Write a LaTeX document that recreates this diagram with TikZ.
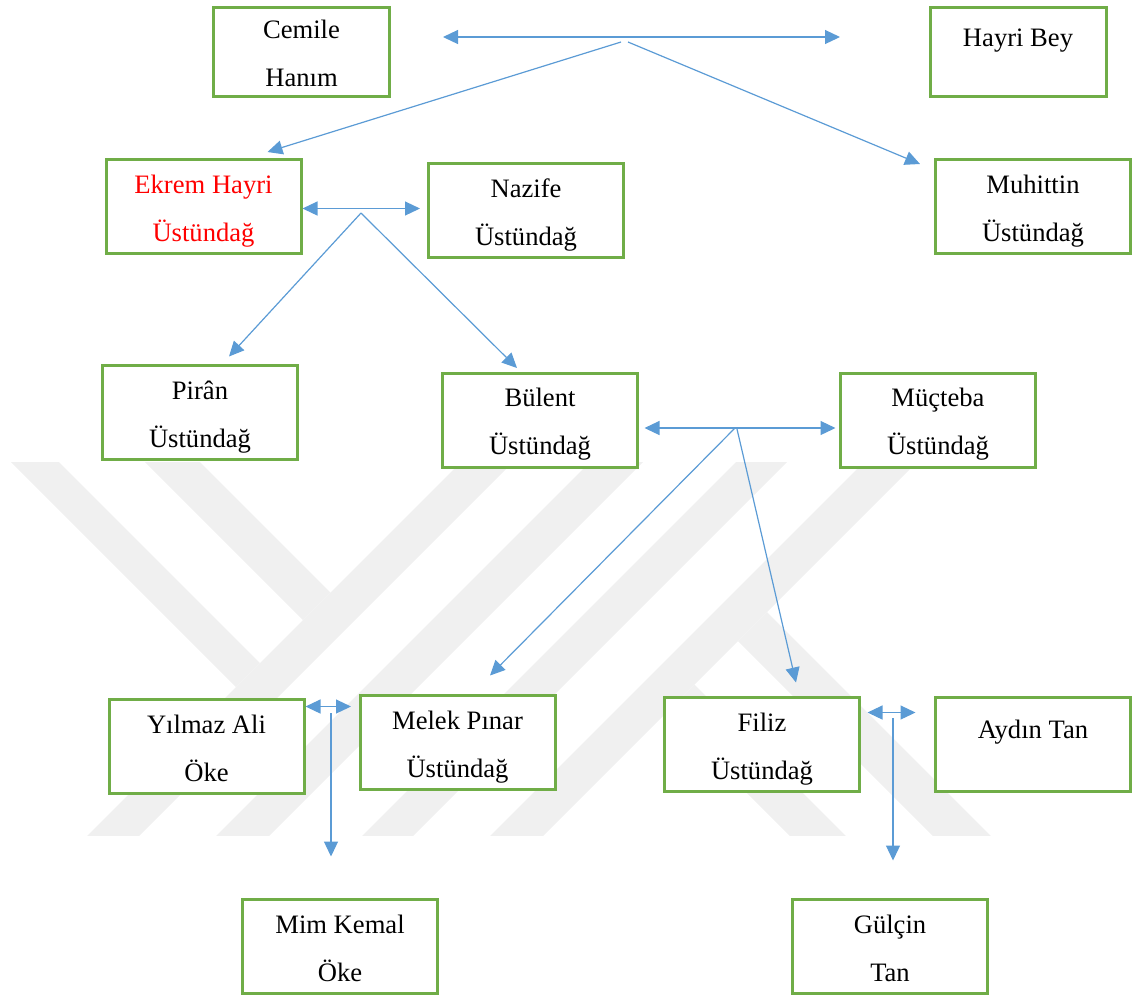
\documentclass[tikz,border=0pt]{standalone}
\usepackage{fontspec}
\setmainfont{Liberation Serif}
\usetikzlibrary{arrows.meta}
\definecolor{boxgreen}{HTML}{70AD47}
\definecolor{linkblue}{HTML}{5B9BD5}
\definecolor{markgray}{HTML}{F0F0F0}

\begin{document}
\begin{tikzpicture}[x=0.5pt, y=-0.5pt, >={Triangle[length=7.5pt,width=7pt]},
  person/.style={rectangle, draw=boxgreen, line width=1.5pt, fill=white, minimum width=97.5pt, minimum height=47pt, inner sep=2pt, align=center, text height=37.5pt, text depth=3pt, font=\fontsize{13.3}{24}\selectfont},
  elder/.style={person, minimum width=88pt, minimum height=44.5pt},
  oneline/.style={text height=9pt, text depth=15pt},
  link/.style={draw=linkblue, line width=0.6pt, ->},
  pair/.style={draw=linkblue, line width=0.6pt, <->}]
\useasboundingbox (0,0) rectangle (1134,998);

% watermark
\begin{scope}
\clip (0,462) rectangle (1134,835);
\fill[markgray] (-3,400) -- (-51,400) -- (236,687) -- (260,663) -- cycle;
\fill[markgray] (138,400) -- (83,400) -- (303,620) -- (330.5,592.5) -- cycle;
\fill[markgray] (523,400) -- (575,400) -- (75,900) -- (23,900) -- cycle;
\fill[markgray] (652,400) -- (705,400) -- (205,900) -- (152,900) -- cycle;
\fill[markgray] (798,400) -- (849,400) -- (349,900) -- (298,900) -- cycle;
\fill[markgray] (926,400) -- (979,400) -- (479,900) -- (426,900) -- cycle;
\fill[markgray] (738,641) -- (767,612) -- (1055,900) -- (997,900) -- cycle;
\fill[markgray] (694.5,684.5) -- (910,900) -- (854,900) -- (666.5,712.5) -- cycle;
\end{scope}

\node[elder] (cemile) at (301.5,52) {Cemile\\Hanım};
\node[elder, oneline] (hayri) at (1018,52) {Hayri Bey};
\node[person, text=red] (ekrem) at (203.5,206.5) {Ekrem Hayri\\Üstündağ};
\node[person] (nazife) at (526,210.5) {Nazife\\Üstündağ};
\node[person] (muhittin) at (1033,206.5) {Muhittin\\Üstündağ};
\node[person] (piran) at (200,412.5) {Pirân\\Üstündağ};
\node[person] (bulent) at (540,420) {Bülent\\Üstündağ};
\node[person] (mucteba) at (938,420) {Müçteba\\Üstündağ};
\node[person] (yilmaz) at (206.5,746.5) {Yılmaz Ali\\Öke};
\node[person] (melek) at (457.5,742.5) {Melek Pınar\\Üstündağ};
\node[person] (filiz) at (762,744.5) {Filiz\\Üstündağ};
\node[person, oneline] (aydin) at (1033,744.5) {Aydın Tan};
\node[person] (mim) at (340,946.5) {Mim Kemal\\Öke};
\node[person] (gulcin) at (890,946.5) {Gülçin\\Tan};

\coordinate (ml) at (443,37);
\coordinate (mr) at (840,37);
\coordinate (m1) at (621,42);
\coordinate (m2) at (628,42);
\coordinate (k1) at (361,213);
\coordinate (b1) at (735,428);
\coordinate (b2) at (737,429);
\coordinate (y1) at (331,713);
\coordinate (f1) at (893,718);

\draw[pair] (ml) -- (mr);
\draw[link] (m1) -- ([xshift=32pt,yshift=3pt]ekrem.north);
\draw[link] (m2) -- ([xshift=-7pt,yshift=-3pt]muhittin.north west);
\draw[pair] ([yshift=-1pt]ekrem.east) -- ([xshift=-3.5pt,yshift=1pt]nazife.west);
\draw[link] (k1) -- ([xshift=14.5pt,yshift=3.75pt]piran.north);
\draw[link] (k1) -- ([xshift=-11.5pt,yshift=1.75pt]bulent.north);
\draw[pair] ([xshift=2.75pt,yshift=-4pt]bulent.east) -- ([xshift=-1.75pt,yshift=-4pt]mucteba.west);
\draw[link] (b1) -- ([xshift=16.25pt,yshift=9.25pt]melek.north);
\draw[link] (b2) -- ([xshift=17pt,yshift=6.75pt]filiz.north);
\draw[pair] ([yshift=-4.25pt]yilmaz.north east) -- ([xshift=-3.75pt,yshift=-6.25pt]melek.north west);
\draw[link] (y1) -- ([xshift=-4.5pt,yshift=20.75pt]mim.north);
\draw[pair] ([xshift=3.25pt,yshift=-8.25pt]filiz.north east) -- ([xshift=-9.25pt,yshift=-8.25pt]aydin.north west);
\draw[link] (f1) -- ([xshift=1.5pt,yshift=18.75pt]gulcin.north);

\end{tikzpicture}
\end{document}
